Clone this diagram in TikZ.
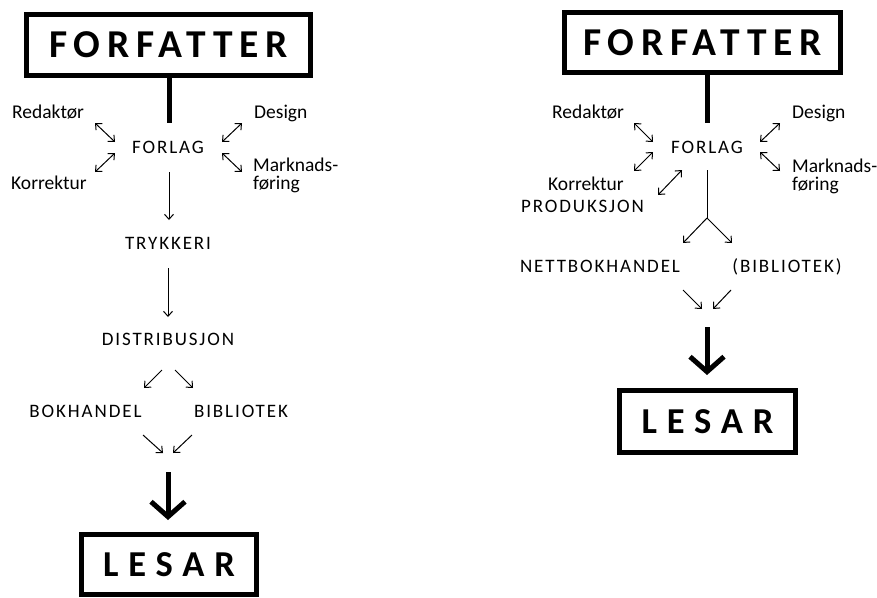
\documentclass[tikz,border=0pt]{standalone}
\usepackage{fontspec}
\setmainfont{Carlito}
\newfontfamily\capsf[LetterSpace=10]{Carlito}
\newfontfamily\bigf[LetterSpace=17]{Carlito}
\newfontfamily\lesarf[LetterSpace=27]{Carlito}
\usetikzlibrary{arrows.meta}
\begin{document}
\begin{tikzpicture}[x=1pt,y=-1pt,
  bigbox/.style={draw,line width=5pt,inner sep=0pt,font=\bigf\bfseries\fontsize{39.5}{40}\selectfont},
  lesarbox/.style={draw,line width=5pt,inner sep=0pt,font=\lesarf\bfseries\fontsize{36.5}{40}\selectfont},
  lbl/.style={inner sep=0pt,anchor=base west,font=\fontsize{19.5}{18}\selectfont,align=left},
  caps/.style={inner sep=0pt,anchor=base,font=\capsf\fontsize{19}{20}\selectfont},
  thinarr/.style={line width=1pt,-{Straight Barb[length=5pt,width=9pt]}},
  dblarr/.style={line width=1pt,{Straight Barb[length=5pt,width=9pt]}-{Straight Barb[length=5pt,width=9pt]}},
  thickline/.style={line width=5pt},
  bigarrow/.style={line width=5pt,-{Straight Barb[length=15pt,width=34pt]}}]
\useasboundingbox (0,0) rectangle (877,597);

% ---------- left diagram ----------
\node[bigbox,minimum width=284pt,minimum height=61pt] (fA) at (168.5,45) {FORFATTER};
\coordinate (fAend) at (169,123);
\draw[thickline] (fA.south -| fAend) -- (fAend);

\node[lbl] (redA) at (12,118) {Redaktør};
\node[lbl] (desA) at (254,118) {Design};
\node[caps] (forlagA) at (168,153) {FORLAG};
\node[lbl] (korA) at (11,189) {Korrektur};
\node[lbl] (marA) at (253,189) {Marknads-\\føring};

\draw[dblarr] (95,123) -- (115,142);
\draw[dblarr] (115,153) -- (95,172);
\draw[dblarr] (242,123) -- (222,142);
\draw[dblarr] (222,153) -- (242,172);

\node[caps] (trykA) at (168,249) {TRYKKERI};
\node[caps] (distA) at (168,345) {DISTRIBUSJON};
\node[caps] (bokA) at (85.5,417) {BOKHANDEL};
\node[caps] (bibA) at (241,417) {BIBLIOTEK};

\coordinate (a1) at (169,172); \coordinate (a2) at (169,220);
\draw[thinarr] (a1) -- (a2);
\coordinate (a3) at (168,268); \coordinate (a4) at (168,317);
\draw[thinarr] (a3) -- (a4);
\draw[thinarr] (162,370) -- (144,388);
\draw[thinarr] (175,370) -- (193,388);
\draw[thinarr] (143,435) -- (163,453);
\draw[thinarr] (192,435) -- (173,453);

\node[lesarbox,minimum width=175pt,minimum height=60pt] (lA) at (169,564.5) {LESAR};
\coordinate (b1) at (168,472);
\draw[bigarrow] (b1) -- (b1 |- 0,520);

% ---------- right diagram ----------
\node[bigbox,minimum width=276pt,minimum height=60pt] (fB) at (702.5,42.5) {FORFATTER};
\coordinate (fBend) at (707,123);
\draw[thickline] (fB.south -| fBend) -- (fBend);

\node[lbl] (redB) at (552,118) {Redaktør};
\node[lbl] (desB) at (792,118) {Design};
\node[caps] (forlagB) at (707,153) {FORLAG};
\node[lbl] (korB) at (548,190) {Korrektur};
\node[caps] (prodB) at (582.5,212) {PRODUKSJON};
\node[lbl] (marB) at (792,190) {Marknads-\\føring};

\draw[dblarr] (634,123) -- (653,142);
\draw[dblarr] (653,152) -- (634,171);
\draw[dblarr] (780,123) -- (760,142);
\draw[dblarr] (760,152) -- (780,171);
\draw[dblarr] (682,170) -- (658,195);

\coordinate (c1) at (707,170); \coordinate (apex) at (707,218);
\draw[line width=1pt] (c1) -- (apex);
\draw[thinarr] (apex) -- (683,243);
\draw[thinarr] (apex) -- (732,243);

\node[caps] (netB) at (600,272) {NETTBOKHANDEL};
\node[caps] (bibB) at (787,272) {(BIBLIOTEK)};

\draw[thinarr] (683,290) -- (702,309);
\draw[thinarr] (731,290) -- (713,309);

\node[lesarbox,minimum width=176pt,minimum height=62pt] (lB) at (707.5,421.5) {LESAR};
\coordinate (b2) at (707,327);
\draw[bigarrow] (b2) -- (b2 |- 0,375);
\end{tikzpicture}
\end{document}
